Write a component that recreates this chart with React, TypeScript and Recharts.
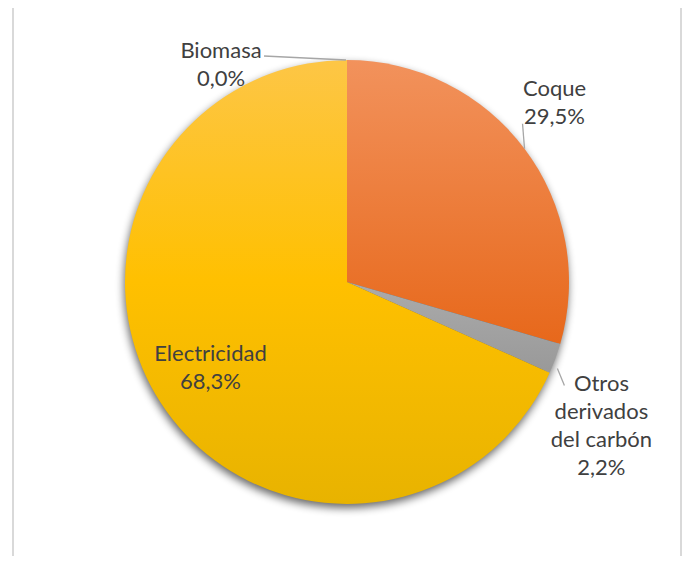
import React from 'react';
import { PieChart, Pie, Cell } from 'recharts';

const categories = ['Coque', 'Otros derivados del carbón', 'Electricidad', 'Biomasa'];
const shares = [29.5, 2.2, 68.3, 0.0];
const shareLabels = ['29,5%', '2,2%', '68,3%', '0,0%'];
const nameLines = [['Coque'], ['Otros', 'derivados', 'del carbón'], ['Electricidad'], ['Biomasa']];

const fills = ['url(#gCoque)', 'url(#gOtros)', 'url(#gElec)', 'url(#gBio)'];

const data = categories.map((c, i) => ({ name: c, value: shares[i], idx: i }));

// label layout (styling): anchor = point on the arc at mid angle (radius factor rf)
const labelCfg = [
  { rf: 1, dx: 30, dy: -61, line: [[0, 0], [-2, -25]] },
  { rf: 1, dx: 46, dy: 24, line: [[2, 10], [9, 27]] },
  { rf: 0.62, dx: -21, dy: -4, line: null },
  { rf: 1, dx: -126, dy: -11, line: [[-1, 0], [-83, -4]] },
];

const RAD = Math.PI / 180;
const FONT = 'Lato, "Open Sans", sans-serif';
const LH = 28;

const renderLabel = (props: any) => {
  const { cx, cy, midAngle, outerRadius, index } = props;
  const cfg = labelCfg[index];
  const px = cx + outerRadius * cfg.rf * Math.cos(-midAngle * RAD);
  const py = cy + outerRadius * cfg.rf * Math.sin(-midAngle * RAD);
  const lines = [...nameLines[index], shareLabels[index]];
  return (
    <g key={`lab-${index}`}>
      {cfg.line && (
        <line
          x1={px + cfg.line[0][0]}
          y1={py + cfg.line[0][1]}
          x2={px + cfg.line[1][0]}
          y2={py + cfg.line[1][1]}
          stroke="#a6a6a6"
          strokeWidth={1.3}
        />
      )}
      {lines.map((t, k) => (
        <text
          key={k}
          x={px + cfg.dx}
          y={py + cfg.dy + k * LH}
          textAnchor="middle"
          dominantBaseline="central"
          fill="#404040"
          fontSize={22}
          fontFamily={FONT}
        >
          {t}
        </text>
      ))}
    </g>
  );
};

export default function App() {
  return (
    <div style={{ position: 'relative', width: 683, height: 548 }}>
      <svg width={0} height={0} style={{ position: 'absolute' }}>
        <defs>
          <linearGradient id="gCoque" x1="0" y1="0" x2="0" y2="1">
            <stop offset="0%" stopColor="#F2925C" />
            <stop offset="100%" stopColor="#E7681B" />
          </linearGradient>
          <linearGradient id="gOtros" x1="0" y1="0" x2="0" y2="1">
            <stop offset="0%" stopColor="#ABABAB" />
            <stop offset="100%" stopColor="#999999" />
          </linearGradient>
          <linearGradient id="gElec" x1="0" y1="0" x2="0" y2="1">
            <stop offset="0%" stopColor="#FDC646" />
            <stop offset="50%" stopColor="#FFC000" />
            <stop offset="100%" stopColor="#E8B300" />
          </linearGradient>
          <linearGradient id="gBio" x1="0" y1="0" x2="0" y2="1">
            <stop offset="0%" stopColor="#5B9BD5" />
            <stop offset="100%" stopColor="#4A86C0" />
          </linearGradient>
          <filter id="pieShadow" x="-20%" y="-20%" width="140%" height="140%">
            <feGaussianBlur in="SourceAlpha" stdDeviation="4" />
            <feOffset dx="-1" dy="4" result="b" />
            <feComponentTransfer>
              <feFuncA type="linear" slope="0.6" />
            </feComponentTransfer>
          </filter>
        </defs>
      </svg>
      <div
        style={{
          position: 'absolute',
          left: 4,
          top: 0,
          width: 670,
          height: 548,
          boxSizing: 'border-box',
          borderLeft: '2px solid #D9D9D9',
          borderRight: '2px solid #D9D9D9',
        }}
      />
      <div style={{ position: 'absolute', left: 0, top: 0 }}>
        <PieChart width={683} height={548}>
          <Pie
            data={[{ name: 'shadow', value: 1 }]}
            dataKey="value"
            cx={334}
            cy={269}
            outerRadius={222}
            startAngle={90}
            endAngle={-270}
            stroke="none"
            isAnimationActive={false}
            label={false}
            labelLine={false}
          >
            <Cell fill="#000" filter="url(#pieShadow)" />
          </Pie>
          <Pie
            data={data}
            dataKey="value"
            nameKey="name"
            cx={334}
            cy={269}
            outerRadius={222}
            startAngle={90}
            endAngle={-270}
            stroke="none"
            isAnimationActive={false}
            label={renderLabel}
            labelLine={false}
          >
            {data.map((d, i) => (
              <Cell key={d.name} fill={fills[i]} />
            ))}
          </Pie>
        </PieChart>
      </div>
    </div>
  );
}
